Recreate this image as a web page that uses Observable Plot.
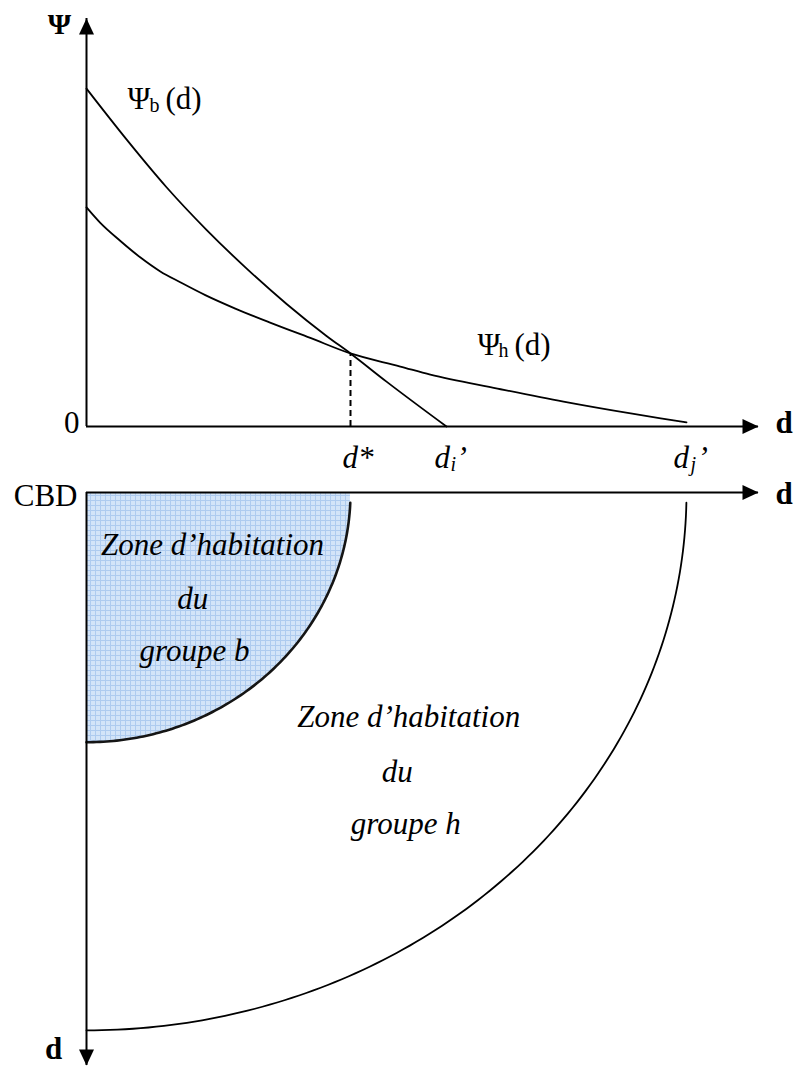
<!DOCTYPE html>
<html><head><meta charset="utf-8">
<script src="https://cdn.jsdelivr.net/npm/d3@7"></script>
<script src="https://cdn.jsdelivr.net/npm/@observablehq/plot@0.6"></script>
<style>body{margin:0;background:#fff} #chart svg{display:block}</style>
</head><body><div id="chart"></div>
<script>
// ---------- data ----------
// bid-rent curve of group b
const dB   = [0, 0.67, 1.33, 2.0, 2.67, 3.33, 4.0, 4.4, 5.0, 6];
const psiB = [82.8, 70.3, 58.7, 48.2, 38.7, 30.1, 22.2, 17.9, 11.0, 0];
// bid-rent curve of group h
const dH   = [0, 0.23, 0.57, 0.9, 1.23, 1.57, 1.98, 2.48, 3.07, 3.73, 4.4, 5.23, 5.73, 6.85, 7.95, 9.07, 9.57, 10];
const psiH = [53.7, 49.9, 45.4, 41.4, 38.0, 35.3, 32.2, 28.9, 25.4, 21.7, 17.9, 14.7, 12.7, 9.3, 6.1, 3.2, 2.0, 1.0];
// key distances
const dStar = 4.4, psiStar = 17.9, dI = 6, dJ = 10;
// zones in the city (horizontal radius, vertical radius)
const zoneRadiusX = [dStar, dJ];
const zoneRadiusY = [4.62, 9.95];
const zoneBText = ["Zone d\u2019habitation", "du", "groupe b"];
const zoneHText = ["Zone d\u2019habitation", "du", "groupe h"];
// axis extents
const dMax = 11.2, psiMax = 100, depthMax = 10.6;

// ---------- helpers ----------
const SERIF = "Liberation Serif, Times New Roman, serif";
const xScale = {domain: [0, dMax], range: [86, 758], axis: null};
function txt(datum, text, o = {}) {
  return Plot.text([datum], {x: "x", y: "y", text: () => text, fontFamily: SERIF, fontSize: 31,
    lineAnchor: "bottom", fill: "black", ...o});
}
function arrowHead(angle) {
  return {draw(ctx) {
    const L = 16, W = 7.5, c = Math.cos(angle), s = Math.sin(angle);
    [[0, 0], [-L, -W], [-L, W]].forEach(([px, py], i) => {
      const X = px * c - py * s, Y = px * s + py * c;
      i ? ctx.lineTo(X, Y) : ctx.moveTo(X, Y);
    });
    ctx.closePath();
  }};
}
function arcPoints(rx, ry, t0) {
  return d3.range(0, 121).map(i => {
    const t = t0 + (Math.PI / 2 - t0) * i / 120;
    return {x: rx * Math.cos(t), y: ry * Math.sin(t)};
  });
}
const curveB = dB.map((d, i) => ({x: d, y: psiB[i]}));
const curveH = dH.map((d, i) => ({x: d, y: psiH[i]}));
const startB = curveB[0], cross = {x: dStar, y: psiStar};

// ---------- top panel ----------
const topPlot = Plot.plot({
  width: 795, height: 470,
  x: xScale,
  y: {domain: [0, psiMax], range: [426, 18], axis: null},
  style: {background: "white", overflow: "visible"},
  marks: [
    Plot.ruleY([0], {x1: 0, x2: dMax, strokeWidth: 2}),
    Plot.ruleX([0], {y1: 0, y2: psiMax, strokeWidth: 2}),
    Plot.dot([{x: dMax, y: 0}], {x: "x", y: "y", r: 6, symbol: arrowHead(0), fill: "black", stroke: "none"}),
    Plot.dot([{x: 0, y: psiMax}], {x: "x", y: "y", r: 6, symbol: arrowHead(-Math.PI / 2), fill: "black", stroke: "none"}),
    Plot.ruleX([dStar], {y1: 0, y2: psiStar, strokeWidth: 2, strokeDasharray: "6,4"}),
    Plot.line(curveB, {x: "x", y: "y", curve: "monotone-x", strokeWidth: 1.8}),
    Plot.line(curveH, {x: "x", y: "y", curve: "monotone-x", strokeWidth: 1.8}),
    // axis labels
    txt({x: 0, y: psiMax}, "\u03A8", {fontWeight: "bold", fontSize: 30, dx: -27, dy: 15}),
    txt({x: 0, y: 0}, "0", {textAnchor: "end", dx: -7, dy: 6}),
    txt({x: dMax, y: 0}, "d", {fontWeight: "bold", textAnchor: "start", dx: 17, dy: 6}),
    // distance labels
    txt({x: dStar, y: 0}, "d*", {fontStyle: "italic", textAnchor: "start", dx: -8, dy: 41}),
    txt({x: dI, y: 0}, "d", {fontStyle: "italic", textAnchor: "start", dx: -12, dy: 41}),
    txt({x: dI, y: 0}, "i", {fontStyle: "italic", fontSize: 20, textAnchor: "start", dx: 4, dy: 44}),
    txt({x: dI, y: 0}, "\u2019", {fontStyle: "italic", textAnchor: "start", dx: 10, dy: 41}),
    txt({x: dJ, y: 0}, "d", {fontStyle: "italic", textAnchor: "start", dx: -13, dy: 41}),
    txt({x: dJ, y: 0}, "j", {fontStyle: "italic", fontSize: 20, textAnchor: "start", dx: 4, dy: 44}),
    txt({x: dJ, y: 0}, "\u2019", {fontStyle: "italic", textAnchor: "start", dx: 11, dy: 41}),
    // curve labels
    txt(startB, "\u03A8", {textAnchor: "start", dx: 41, dy: 20}),
    txt(startB, "b", {textAnchor: "start", fontSize: 20, dx: 63, dy: 23}),
    txt(startB, "(d)", {textAnchor: "start", dx: 79, dy: 20}),
    txt(cross, "\u03A8", {textAnchor: "start", dx: 127, dy: 2}),
    txt(cross, "h", {textAnchor: "start", fontSize: 20, dx: 148, dy: 4}),
    txt(cross, "(d)", {textAnchor: "start", dx: 164, dy: 2})
  ]
});

// ---------- bottom panel ----------
const gap = 0.19; // small gap below the axis where the arcs begin
const zoneB = arcPoints(zoneRadiusX[0], zoneRadiusY[0], 0);
const edgeB = arcPoints(zoneRadiusX[0], zoneRadiusY[0], Math.asin(gap / zoneRadiusY[0]));
const edgeH = arcPoints(zoneRadiusX[1], zoneRadiusY[1], Math.asin(gap / zoneRadiusY[1]));
const labB = [{x: 2.1, y: 1.165}, {x: 1.77, y: 2.146}, {x: 1.8, y: 3.126}];
const labH = [{x: 5.37, y: 4.33}, {x: 5.18, y: 5.36}, {x: 5.32, y: 6.31}];

const bottomPlot = Plot.plot({
  width: 795, height: 596,
  x: xScale,
  y: {domain: [0, depthMax], range: [22, 595], axis: null},
  style: {background: "white", overflow: "visible"},
  marks: [
    Plot.areaY(zoneB, {x: "x", y1: 0, y2: "y", fill: "url(#blueGrid)"}),
    Plot.line(edgeB, {x: "x", y: "y", stroke: "#151515", strokeWidth: 2.6}),
    Plot.line(edgeH, {x: "x", y: "y", stroke: "black", strokeWidth: 1.8}),
    Plot.ruleY([0], {x1: 0, x2: dMax, strokeWidth: 2}),
    Plot.ruleX([0], {y1: 0, y2: depthMax, strokeWidth: 2}),
    Plot.dot([{x: dMax, y: 0}], {x: "x", y: "y", r: 6, symbol: arrowHead(0), fill: "black", stroke: "none"}),
    Plot.dot([{x: 0, y: depthMax}], {x: "x", y: "y", r: 6, symbol: arrowHead(Math.PI / 2), fill: "black", stroke: "none"}),
    txt({x: 0, y: 0}, "CBD", {textAnchor: "end", dx: -9, dy: 13}),
    txt({x: dMax, y: 0}, "d", {fontWeight: "bold", textAnchor: "start", dx: 17, dy: 11}),
    txt({x: 0, y: depthMax}, "d", {fontWeight: "bold", dx: -33, dy: -7}),
    ...zoneBText.map((t, i) => txt(labB[i], t, {fontStyle: "italic"})),
    ...zoneHText.map((t, i) => txt(labH[i], t, {fontStyle: "italic"}))
  ]
});

// blue grid pattern for the zone of group b
const defs = d3.select(bottomPlot).insert("defs", ":first-child");
const pat = defs.append("pattern").attr("id", "blueGrid").attr("patternUnits", "userSpaceOnUse")
  .attr("width", 5).attr("height", 5);
pat.append("rect").attr("width", 5).attr("height", 5).attr("fill", "#d3e4f8");
pat.append("path").attr("d", "M0 0.5H5M0.5 0V5").attr("stroke", "#aecbef").attr("stroke-width", 1);

document.getElementById("chart").append(topPlot, bottomPlot);
</script>
</body></html>
